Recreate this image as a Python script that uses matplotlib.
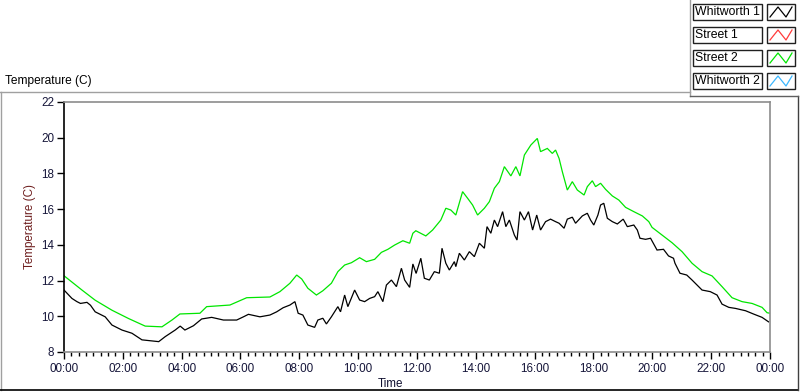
import matplotlib
matplotlib.use("Agg")
import matplotlib.pyplot as plt
from matplotlib.lines import Line2D
from matplotlib.patches import Rectangle
from matplotlib.ticker import MultipleLocator, FuncFormatter

W, H = 800, 392
FONT = ["Liberation Sans", "DejaVu Sans"]
plt.rcParams['font.family'] = FONT

# ---------------- data ----------------
series_names = ["Whitworth 1", "Street 1", "Street 2", "Whitworth 2"]
series_colors = ["#000000", "#ff3b3b", "#00e600", "#3cb8ff"]

whitworth1_hours = [0.0, 0.27, 0.44, 0.56, 0.78, 0.9, 1.06, 1.4, 1.63, 1.97, 2.31, 2.65, 2.99, 3.22,
                    3.44, 3.78, 3.95, 4.11, 4.4, 4.68, 5.02, 5.42, 5.87, 6.1, 6.27, 6.66, 7.0, 7.23,
                    7.45, 7.68, 7.85, 7.96, 8.12, 8.29, 8.52, 8.63, 8.8, 8.92, 9.09, 9.31, 9.4, 9.54,
                    9.65, 9.88, 10.05, 10.22, 10.39, 10.56, 10.67, 10.84, 10.96, 11.13, 11.3, 11.47,
                    11.58, 11.75, 11.86, 11.97, 12.13, 12.25, 12.42, 12.59, 12.76, 12.85, 12.98, 13.1,
                    13.27, 13.32, 13.44, 13.61, 13.78, 13.95, 14.12, 14.29, 14.38, 14.51, 14.63, 14.74,
                    14.91, 15.02, 15.14, 15.31, 15.4, 15.5, 15.65, 15.79, 15.93, 16.07, 16.2, 16.37,
                    16.54, 16.71, 16.83, 17.0, 17.11, 17.28, 17.39, 17.62, 17.79, 17.9, 18.01, 18.15,
                    18.24, 18.35, 18.47, 18.64, 18.81, 19.01, 19.15, 19.37, 19.49, 19.58, 19.77, 19.94,
                    20.16, 20.38, 20.55, 20.72, 20.77, 20.94, 21.17, 21.35, 21.52, 21.69, 21.97, 22.2,
                    22.37, 22.6, 22.83, 23.17, 23.45, 23.73, 23.95]
whitworth1_temp = [11.47, 11.0, 10.82, 10.72, 10.78, 10.62, 10.25, 9.97, 9.51, 9.23, 9.05, 8.68, 8.62, 8.58,
                   8.86, 9.23, 9.45, 9.23, 9.47, 9.85, 9.94, 9.79, 9.79, 9.97, 10.11, 9.97, 10.07, 10.25,
                   10.48, 10.63, 10.82, 10.17, 10.07, 9.51, 9.38, 9.79, 9.89, 9.57, 9.97, 10.54, 10.25, 11.19,
                   10.54, 11.47, 10.91, 10.82, 11.0, 11.1, 11.38, 10.82, 11.75, 12.03, 11.66, 12.69,
                   12.03, 11.62, 12.93, 12.4, 13.25, 12.13, 12.03, 12.5, 12.41, 13.81, 12.97, 12.59,
                   13.06, 12.78, 13.53, 13.15, 13.62, 13.34, 14.09, 13.81, 15.02, 14.65, 15.39, 15.02,
                   15.86, 15.02, 15.39, 14.55, 14.27, 15.86, 15.39, 15.86, 14.83, 15.67, 14.83, 15.3,
                   15.44, 15.3, 15.21, 14.93, 15.44, 15.55, 15.21, 15.62, 15.77, 15.39, 15.11, 15.67,
                   16.23, 16.33, 15.49, 15.3, 15.17, 15.44, 15.02, 15.11, 14.83, 14.37, 14.31, 14.37,
                   13.71, 13.75, 13.38, 13.25, 12.97, 12.41, 12.31, 12.03, 11.75, 11.47, 11.38, 11.19,
                   10.68, 10.5, 10.44, 10.31, 10.12, 9.94, 9.69]

street2_hours = [0.0, 0.61, 1.06, 1.63, 2.2, 2.76, 3.33, 3.67, 3.94, 4.62, 4.85, 5.64, 6.21, 7.0, 7.34,
                 7.68, 7.91, 8.08, 8.29, 8.58, 8.8, 9.09, 9.31, 9.54, 9.77, 10.05, 10.28, 10.56, 10.79,
                 11.01, 11.24, 11.52, 11.75, 11.86, 11.96, 12.3, 12.53, 12.81, 12.98, 13.15, 13.32,
                 13.55, 13.72, 13.89, 14.06, 14.29, 14.46, 14.63, 14.8, 14.97, 15.19, 15.36, 15.5,
                 15.65, 15.87, 16.09, 16.2, 16.43, 16.6, 16.71, 16.83, 16.94, 17.11, 17.28, 17.45,
                 17.68, 17.79, 17.96, 18.07, 18.24, 18.41, 18.64, 18.86, 19.09, 19.37, 19.66, 19.88,
                 19.99, 20.33, 20.67, 21.01, 21.35, 21.69, 22.03, 22.37, 22.71, 23.05, 23.39, 23.73,
                 23.9, 24.0]
street2_temp = [12.27, 11.47, 10.9, 10.34, 9.87, 9.45, 9.41, 9.79, 10.13, 10.17, 10.54, 10.63, 11.04, 11.08,
                11.38, 11.85, 12.31, 12.09, 11.57, 11.19, 11.43, 11.85, 12.5, 12.87, 13.0, 13.28, 13.06,
                13.19, 13.58, 13.75, 13.99, 14.23, 14.09, 14.65, 14.79, 14.5, 14.83, 15.39, 16.05, 15.95,
                15.67, 16.98, 16.61, 16.23, 15.67, 16.05, 16.42, 17.17, 17.54, 18.38, 17.86, 18.38,
                17.86, 19.03, 19.59, 19.96, 19.22, 19.4, 19.12, 19.31, 18.84, 18.1, 17.07, 17.54,
                17.07, 16.79, 17.26, 17.59, 17.26, 17.45, 17.11, 16.74, 16.51, 16.1, 15.86, 15.62,
                15.3, 14.98, 14.55, 14.12, 13.62, 12.97, 12.5, 12.26, 11.66, 11.04, 10.82, 10.72,
                10.5, 10.2, 10.17]

street1_hours, street1_temp = [], []
whitworth2_hours, whitworth2_temp = [], []

y_min, y_max, y_step = 8, 22, 2
x_min, x_max, x_major, x_minor = 0, 24, 2, 0.25

title_text = "Temperature (C)"
ylabel_text = "Temperature (C)"
xlabel_text = "Time"

# ---------------- figure ----------------
fig = plt.figure(figsize=(W / 100, H / 100), dpi=100)
fig.patch.set_facecolor("white")


def fx(x):
    return x / W


def fy(y):
    return 1 - y / H


ax_l, ax_r, ax_t, ax_b = 64, 770, 102, 352
ax = fig.add_axes([fx(ax_l), fy(ax_b), (ax_r - ax_l) / W, (ax_b - ax_t) / H])

all_series = [
    (whitworth1_hours, whitworth1_temp),
    (street1_hours, street1_temp),
    (street2_hours, street2_temp),
    (whitworth2_hours, whitworth2_temp),
]
# draw order: green under black
for idx in [2, 1, 3, 0]:
    hrs, vals = all_series[idx]
    if hrs:
        ax.plot(hrs, vals, color=series_colors[idx], lw=0.9, solid_joinstyle="miter")

ax.set_xlim(x_min, x_max)
ax.set_ylim(y_min, y_max)
ax.xaxis.set_major_locator(MultipleLocator(x_major))
ax.xaxis.set_minor_locator(MultipleLocator(x_minor))
ax.yaxis.set_major_locator(MultipleLocator(y_step))
ax.xaxis.set_major_formatter(FuncFormatter(lambda v, p: "%02d:00" % (int(round(v)) % 24)))
ax.yaxis.set_major_formatter(FuncFormatter(lambda v, p: "%d" % int(round(v))))

tick_col = "#16163a"
ax.tick_params(axis="x", which="major", direction="out", length=5, width=1, color="black",
               labelsize=8.4, labelcolor=tick_col, pad=3)
ax.tick_params(axis="x", which="minor", direction="out", length=3, width=1, color="black")
ax.tick_params(axis="y", which="major", direction="out", length=5, width=1, color="black",
               labelsize=8.4, labelcolor=tick_col, pad=2)

for s in ["top", "right", "bottom"]:
    ax.spines[s].set_color("#8c8c8c")
    ax.spines[s].set_linewidth(1.2)
ax.spines["left"].set_color("black")
ax.spines["left"].set_linewidth(1.2)

# axis labels
fig.text(fx(30), fy((ax_t + ax_b) / 2), ylabel_text, rotation=90, ha="center", va="center",
         fontsize=8.4, color="#6e1e1e")
fig.text(fx(390), fy(384), xlabel_text, ha="center", va="center", fontsize=8.4, color="#101030")
fig.text(fx(5), fy(81), title_text, ha="left", va="center", fontsize=8.6, color="black")

# panel frame
frame_gray = "#a0a0a0"
fig.add_artist(Line2D([fx(0), fx(690)], [fy(92), fy(92)], color=frame_gray, lw=1))
fig.add_artist(Line2D([fx(1), fx(1)], [fy(92), fy(390)], color=frame_gray, lw=1))
fig.add_artist(Line2D([fx(0), fx(798)], [fy(390), fy(390)], color="black", lw=1.2))
fig.add_artist(Line2D([fx(798), fx(798)], [fy(96), fy(390)], color="#404040", lw=1))
# legend panel frame
fig.add_artist(Line2D([fx(690), fx(690)], [fy(0), fy(96)], color=frame_gray, lw=1))
fig.add_artist(Line2D([fx(690), fx(798)], [fy(96), fy(96)], color="#606060", lw=1))

# legend entries
row_centers = [12, 35, 58, 81]
box_h = 16
for name, col, yc in zip(series_names, series_colors, row_centers):
    y0 = yc - box_h / 2
    fig.add_artist(Rectangle((fx(693), fy(y0 + box_h)), (762 - 693) / W, box_h / H,
                             transform=fig.transFigure, facecolor="white", edgecolor="#202020", lw=1))
    fig.text(fx(695), fy(yc), name, ha="left", va="center", fontsize=8.8, color="black")
    gx0, gx1 = 767, 795
    fig.add_artist(Rectangle((fx(gx0), fy(y0 + box_h)), (gx1 - gx0) / W, box_h / H,
                             transform=fig.transFigure, facecolor="white", edgecolor="#202020", lw=1))
    zx = [gx0 + 3, gx0 + 11, gx0 + 19, gx1 - 3]
    zy = [y0 + box_h - 3, y0 + 3, y0 + box_h - 3, y0 + 3]
    fig.add_artist(Line2D([fx(v) for v in zx], [fy(v) for v in zy], color=col, lw=0.9))

fig.savefig("out.png", dpi=100, facecolor="white")
